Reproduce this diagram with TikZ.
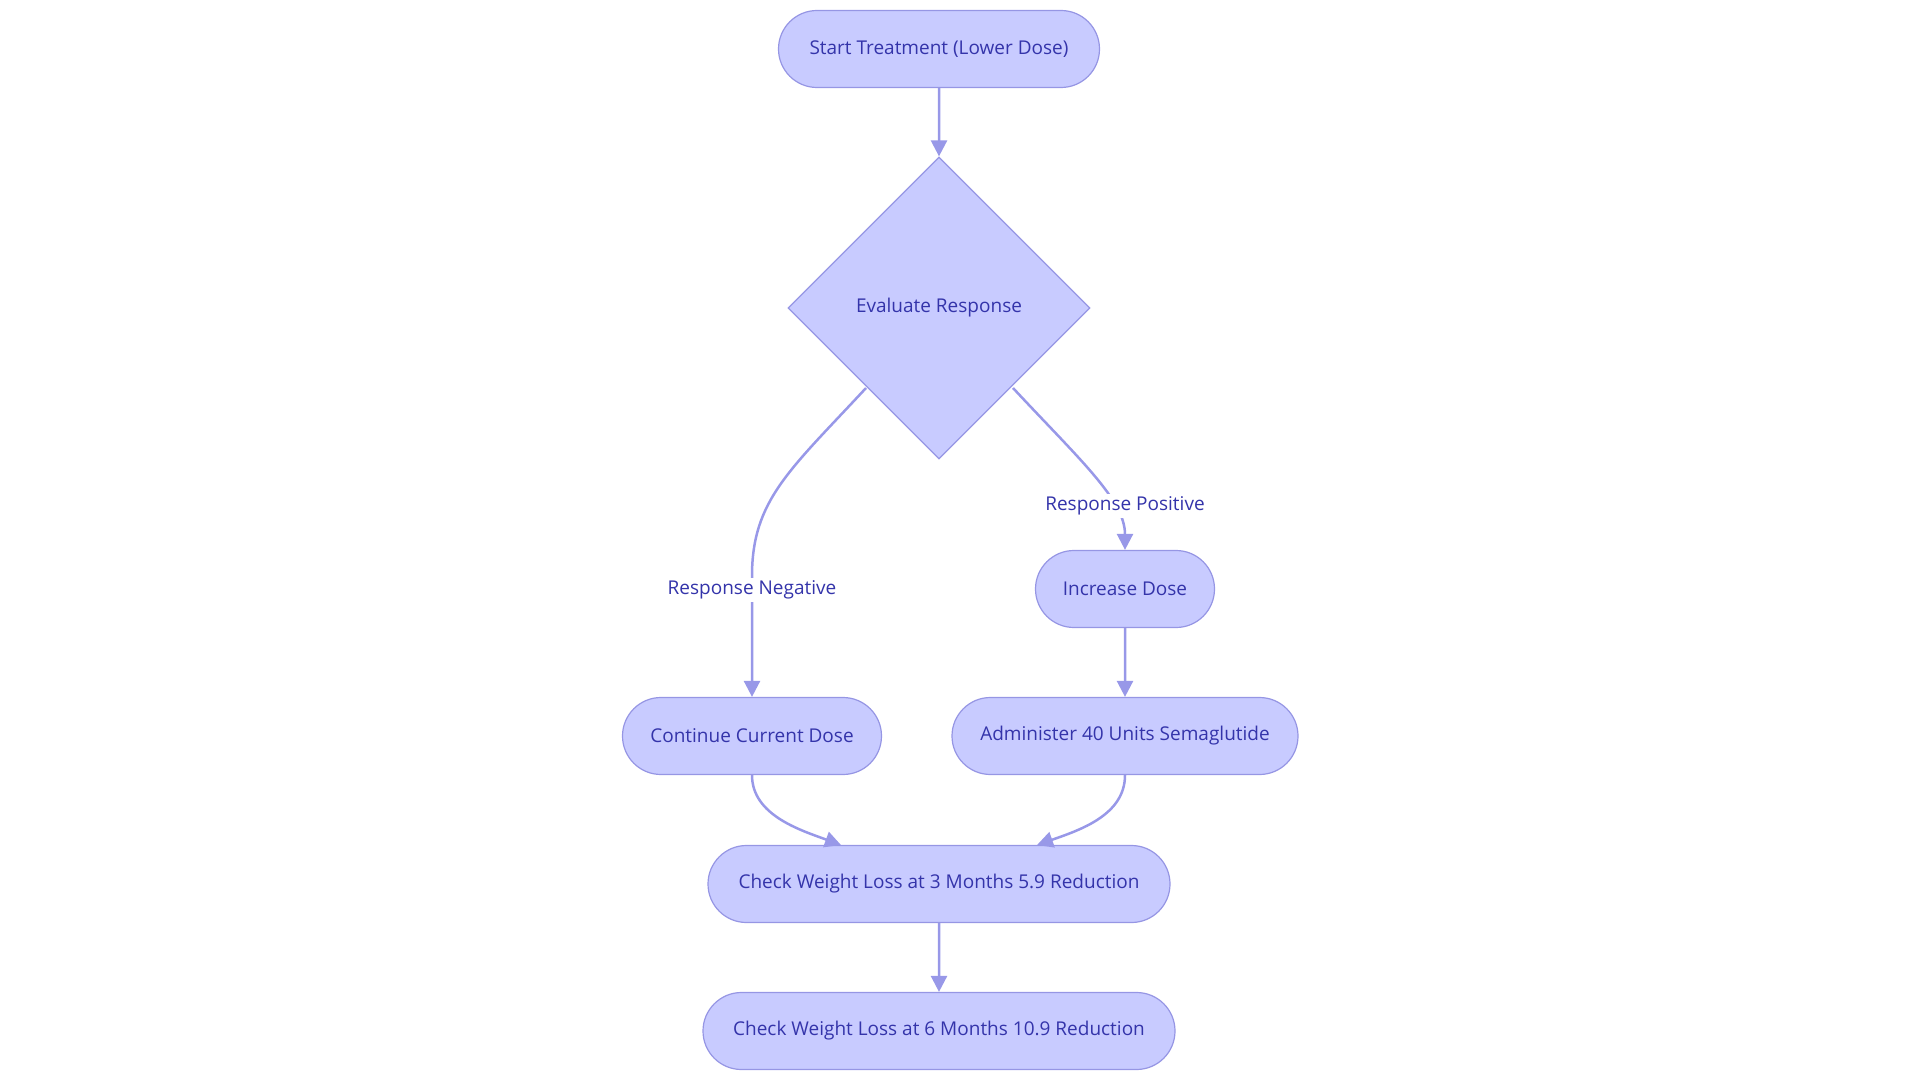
\documentclass[tikz,border=0pt]{standalone}
\usepackage{fontspec}
\setmainfont{Open Sans}
\usetikzlibrary{shapes.geometric,shapes.misc,arrows.meta}
\definecolor{nfill}{RGB}{200,203,255}
\definecolor{nborder}{RGB}{150,150,228}
\definecolor{ntext}{RGB}{52,52,170}
\definecolor{nline}{RGB}{152,152,232}
\tikzset{
  box/.style={rounded rectangle, draw=nborder, fill=nfill, line width=1.2pt, text=ntext, font=\fontsize{19pt}{22pt}\selectfont, minimum height=77pt, inner xsep=0pt},
  dia/.style={diamond, aspect=1, draw=nborder, fill=nfill, line width=1.2pt, text=ntext, font=\fontsize{19pt}{22pt}\selectfont, minimum width=302pt, minimum height=302pt, inner sep=0pt},
  conn/.style={draw=nline, line width=2.5pt, -{Triangle[length=16pt,width=16pt]}},
  lbl/.style={fill=white, text=ntext, font=\fontsize{19pt}{22pt}\selectfont, inner sep=3pt}
}
\begin{document}
\begin{tikzpicture}[x=1pt,y=1pt]
\useasboundingbox (0,0) rectangle (1920,-1083);
\node[box, minimum width=321pt] (start) at (939,-49) {Start Treatment (Lower Dose)};
\node[dia] (eval) at (939,-308) {Evaluate Response};
\node[box, minimum width=179pt] (inc) at (1125,-589) {Increase Dose};
\node[box, minimum width=259pt] (cont) at (752,-736) {Continue Current Dose};
\node[box, minimum width=346pt] (adm) at (1125,-736) {Administer 40 Units Semaglutide};
\node[box, minimum width=462pt] (c3) at (939,-884) {Check Weight Loss at 3 Months 5.9 Reduction};
\node[box, minimum width=472pt] (c6) at (939,-1031) {Check Weight Loss at 6 Months 10.9 Reduction};
\coordinate (nl) at (866,-388);
\coordinate (pl) at (1013,-388);
\draw[conn] (start) -- (eval);
\draw[conn] (nl) .. controls (790,-470) and (752,-500) .. (752,-576) -- (cont.north);
\node[lbl] (nlab) at (752,-590) {Response Negative};
\draw[conn] (pl) .. controls (1080,-460) and (1125,-500) .. (inc.north);
\node[lbl] (plab) at (1125,-506) {Response Positive};
\draw[conn] (inc) -- (adm);
\draw[conn] (cont.south) .. controls (752,-815) and (800,-830) .. (841,-845);
\draw[conn] (adm.south) .. controls (1125,-815) and (1080,-830) .. (1037,-845);
\draw[conn] (c3) -- (c6);
\end{tikzpicture}
\end{document}
